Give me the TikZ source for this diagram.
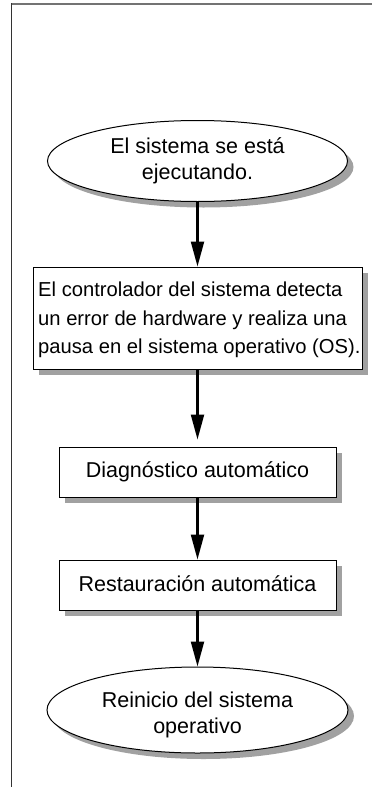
\documentclass[tikz,border=0pt]{standalone}
\usepackage{fontspec}
\setmainfont{Liberation Sans}
\usetikzlibrary{shapes.geometric,arrows.meta,shadows}
\begin{document}
\begin{tikzpicture}[x=1pt,y=1pt,
  shad/.style={drop shadow={shadow xshift=6pt,shadow yshift=-6pt,fill=black!37,opacity=1}},
  oval/.style={ellipse,draw=black,line width=1pt,fill=white,shad,inner sep=0pt},
  boxnode/.style={rectangle,draw=black,line width=1pt,fill=white,shad,inner sep=0pt},
  bigtxt/.style={inner sep=0pt,align=center,font=\fontsize{21.5}{25.5}\selectfont},
  smalltxt/.style={inner sep=0pt,align=left,font=\fontsize{20.2}{28.5}\selectfont},
  flow/.style={line width=2.2pt,-{Triangle[length=25pt,width=13pt]}}
]
\useasboundingbox (0,0) rectangle (372,-787);
% frame
\coordinate (ftl) at (11,-3.5);
\coordinate (ftr) at (372,-3.5);
\coordinate (flt) at (11.5,-3);
\coordinate (flb) at (11.5,-787);
\draw[line width=2pt,draw=black!55] (ftl) -- (ftr);
\draw[line width=1.5pt,draw=black!80] (flt) -- (flb);

% nodes
\node[oval,minimum width=300pt,minimum height=81pt] (e1) at (197.5,-161) {};
\node[bigtxt] (t1) at (197.5,-161) {El sistema se está\\ejecutando.};

\node[boxnode,minimum width=329pt,minimum height=102pt] (b2) at (197.5,-318) {};
\node[smalltxt,anchor=west] (t2) at (38,-320) {El controlador del sistema detecta\\un error de hardware y realiza una\\pausa en el sistema operativo (OS).};

\node[boxnode,minimum width=277pt,minimum height=50pt] (b3) at (197.5,-472) {};
\node[bigtxt] (t3) at (197.5,-472) {Diagnóstico automático};

\node[boxnode,minimum width=277pt,minimum height=50pt] (b4) at (197.5,-585) {};
\node[bigtxt] (t4) at (197.5,-584) {Restauración automática};

\node[oval,minimum width=301pt,minimum height=86pt] (e5) at (197.5,-710) {};
\node[bigtxt] (t5) at (197.5,-715) {Reinicio del sistema\\operativo};

% connectors
\draw[flow] (e1.south) -- (b2.north);
\draw[flow,shorten >=7pt] (b2.south) -- (b3.north);
\draw[flow] (b3.south) -- (b4.north);
\draw[flow] (b4.south) -- (e5.north);
\end{tikzpicture}
\end{document}
